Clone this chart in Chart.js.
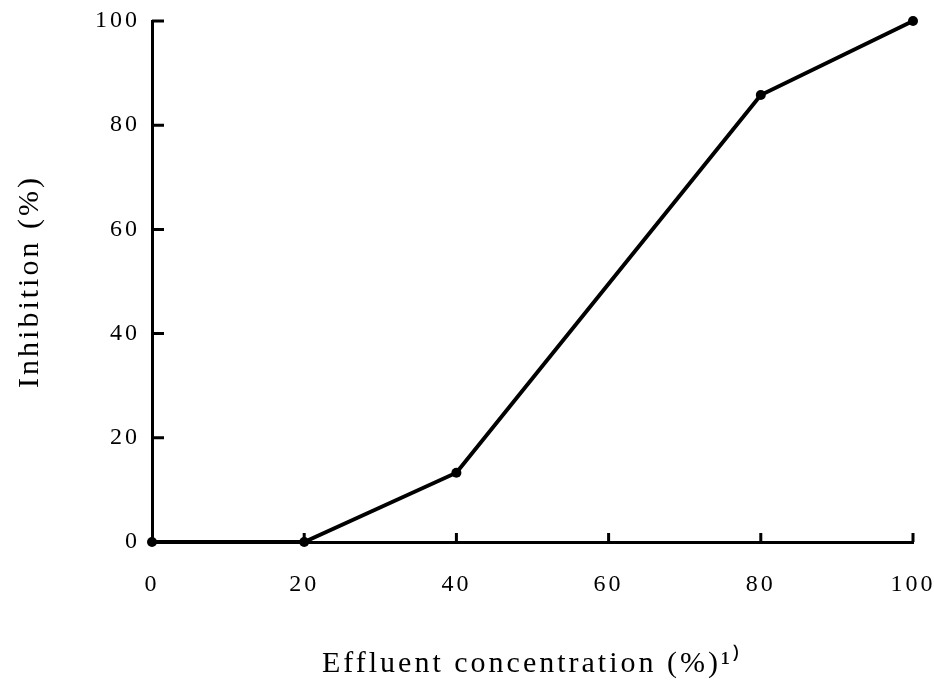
<!DOCTYPE html>
<html>
<head>
<meta charset="utf-8">
<script src="https://cdn.jsdelivr.net/npm/chart.js@4"></script>
<style>
  html, body { margin: 0; padding: 0; background: #fff; }
</style>
</head>
<body>
<canvas id="chart" width="934" height="687"></canvas>
<script>
var CONCENTRATION = [0, 20, 40, 80, 100];
var INHIBITION = [0, 0, 13.3, 85.8, 100];
var X_TICKS = [0, 20, 40, 60, 80, 100];
var Y_TICKS = [0, 20, 40, 60, 80, 100];
var X_TITLE = "Effluent concentration (%)\u00B9\u207E";
var Y_TITLE = "Inhibition (%)";

var FONT = "'Liberation Serif', 'Times New Roman', serif";

function get_points(xs, ys) {
    const result = [];
    for (const [index, x] of xs.entries()) {
        result.push({ x: x, y: ys[index] });
    }
    return result;
}

// letter spacing like the scanned figure, plus inward tick marks
const paperStyle = {
    id: "paperStyle",
    beforeDraw: function (chart) {
        chart.ctx.letterSpacing = "3px";
    },
    afterDraw: function (chart) {
        const ctx = chart.ctx;
        const area = chart.chartArea;
        const xs = chart.scales.x;
        const ys = chart.scales.y;
        ctx.save();
        ctx.strokeStyle = "#000";
        ctx.lineWidth = 3;
        ctx.beginPath();
        for (const v of X_TICKS) {
            if (v == 0) continue;
            const px = xs.getPixelForValue(v);
            ctx.moveTo(px, area.bottom);
            ctx.lineTo(px, area.bottom - 9);
        }
        for (const v of Y_TICKS) {
            if (v == 0) continue;
            const py = ys.getPixelForValue(v);
            ctx.moveTo(area.left, py);
            ctx.lineTo(area.left + 12, py);
        }
        ctx.stroke();
        ctx.restore();
    },
};

const config = {
    type: "line",
    data: {
        datasets: [
            {
                label: "Inhibition",
                data: get_points(CONCENTRATION, INHIBITION),
                borderColor: "#000",
                backgroundColor: "#000",
                borderWidth: 4,
                pointRadius: 5,
                pointBackgroundColor: "#000",
                pointBorderWidth: 0,
                tension: 0,
                clip: false,
            },
        ],
    },
    plugins: [paperStyle],
    options: {
        animation: false,
        responsive: false,
        layout: {
            padding: { top: 21, right: 21, bottom: 0, left: 0 },
        },
        plugins: {
            legend: { display: false },
            tooltip: { enabled: false },
        },
        scales: {
            x: {
                type: "linear",
                min: 0,
                max: 100,
                afterBuildTicks: function (scale) {
                    scale.ticks = X_TICKS.map(function (v) { return { value: v }; });
                },
                afterFit: function (scale) {
                    scale.height = 145;
                    scale.paddingLeft = 0;
                    scale.paddingRight = 0;
                },
                grid: { drawOnChartArea: false, drawTicks: false },
                border: { display: true, color: "#000", width: 3 },
                ticks: {
                    color: "#000",
                    padding: 28,
                    maxRotation: 0,
                    font: { family: FONT, size: 24 },
                },
                title: {
                    display: true,
                    text: X_TITLE,
                    color: "#000",
                    padding: { top: 0, bottom: 5 },
                    font: { family: FONT, size: 30 },
                },
            },
            y: {
                type: "linear",
                min: 0,
                max: 100,
                afterBuildTicks: function (scale) {
                    scale.ticks = Y_TICKS.map(function (v) { return { value: v }; });
                },
                afterFit: function (scale) {
                    scale.width = 152;
                    scale.paddingTop = 0;
                    scale.paddingBottom = 0;
                },
                grid: { drawOnChartArea: false, drawTicks: false },
                border: { display: true, color: "#000", width: 3 },
                ticks: {
                    color: "#000",
                    padding: 12,
                    font: { family: FONT, size: 24 },
                },
                title: {
                    display: true,
                    text: Y_TITLE,
                    color: "#000",
                    padding: { top: 12, bottom: 0 },
                    font: { family: FONT, size: 30 },
                },
            },
        },
    },
};

new Chart(document.getElementById("chart"), config);
</script>
</body>
</html>
